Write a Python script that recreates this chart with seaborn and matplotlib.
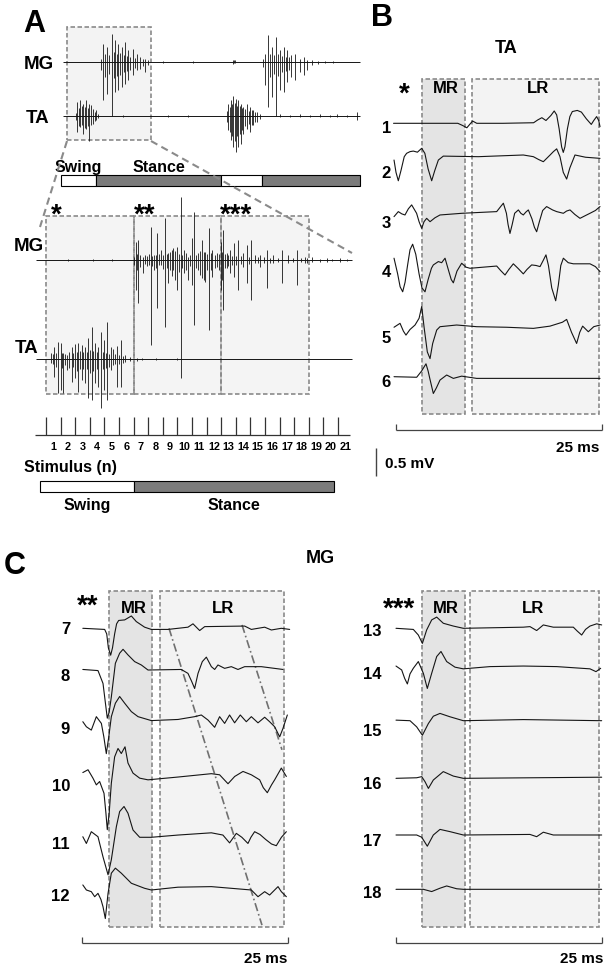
import numpy as np
import pandas as pd
import matplotlib
matplotlib.use("Agg")
import matplotlib.pyplot as plt
from matplotlib.patches import Rectangle
from matplotlib.transforms import offset_copy
import seaborn as sns

# ============================== DATA ==============================
# ---- Panel A, overview recording: spikes as (time s, up mV, down mV)
overview_mg_spikes = [
    (0.38, 0.3, 0.8), (0.40, 1.8, 3.8), (0.42, 0.8, 1.5), (0.44, 1.5, 3.2), (0.46, 0.7, 1.2),
    (0.49, 2.8, 5.4), (0.505, 1.0, 1.6), (0.52, 2.2, 3.0), (0.535, 0.8, 1.4), (0.55, 1.8, 2.8),
    (0.57, 0.9, 1.3), (0.59, 1.5, 2.5), (0.605, 0.7, 1.0), (0.62, 2.0, 2.2), (0.635, 0.6, 0.9),
    (0.65, 1.2, 1.8), (0.67, 0.5, 0.8), (0.70, 1.3, 1.3), (0.72, 0.4, 0.6), (0.74, 0.8, 0.8),
    (0.77, 0.5, 0.7), (0.80, 0.3, 0.4), (0.82, 0.3, 1.0), (0.85, 0.2, 0.3),
    (1.00, 0.08, 0.08), (1.30, 0.1, 0.1), (1.70, 0.2, 0.2), (1.71, 0.15, 0.15), (1.72, 0.2, 0.15),
    (2.00, 0.3, 0.5), (2.02, 0.8, 2.3), (2.05, 2.7, 4.5), (2.07, 0.8, 1.5), (2.09, 1.5, 3.5),
    (2.11, 0.7, 1.2), (2.13, 2.5, 5.4), (2.15, 0.8, 1.4), (2.17, 1.2, 2.8), (2.19, 0.6, 1.0),
    (2.21, 1.5, 3.0), (2.225, 0.5, 0.9), (2.24, 1.2, 2.0), (2.26, 0.5, 0.8), (2.28, 0.7, 1.5),
    (2.32, 0.8, 1.8), (2.37, 0.3, 1.0), (2.41, 0.5, 1.3), (2.44, 0.2, 0.8), (2.49, 0.2, 0.3),
    (2.55, 0.1, 0.2), (2.62, 0.1, 0.15), (2.70, 0.1, 0.1),
]
overview_ta_spikes = [
    (0.13, 0.3, 0.4), (0.14, 1.4, 1.6), (0.155, 0.8, 1.0), (0.17, 1.6, 1.1), (0.185, 1.0, 0.9),
    (0.20, 1.2, 1.8), (0.215, 0.9, 1.2), (0.23, 1.6, 1.3), (0.245, 0.8, 1.0), (0.26, 1.2, 2.5),
    (0.28, 1.1, 0.9), (0.30, 0.7, 0.8), (0.315, 0.4, 0.5), (0.33, 0.6, 0.4), (0.345, 0.2, 0.2),
    (0.60, 0.08, 0.08), (1.05, 0.1, 0.1), (1.25, 0.1, 0.1),
    (1.64, 0.5, 0.6), (1.65, 1.2, 1.4), (1.665, 0.9, 1.6), (1.68, 1.6, 2.4), (1.69, 1.2, 2.0),
    (1.70, 2.0, 3.1), (1.715, 1.3, 2.5), (1.73, 1.7, 3.6), (1.74, 1.0, 2.0), (1.75, 1.6, 3.1),
    (1.765, 1.0, 1.8), (1.78, 1.2, 2.8), (1.79, 0.8, 1.4), (1.80, 0.9, 1.8), (1.82, 0.7, 1.0),
    (1.84, 1.2, 1.3), (1.855, 0.5, 0.8), (1.87, 0.9, 1.6), (1.89, 0.6, 0.9), (1.90, 0.6, 0.9),
    (1.92, 0.4, 0.6), (1.94, 0.4, 0.6), (1.97, 0.2, 0.3),
    (2.17, 0.15, 0.15), (2.27, 0.12, 0.12), (2.37, 0.15, 0.15), (2.47, 0.12, 0.12),
    (2.57, 0.15, 0.15), (2.67, 0.12, 0.12), (2.74, 0.15, 0.15), (2.84, 0.12, 0.12), (2.94, 0.4, 0.4),
]
overview_span = (0.0, 2.97)
overview_window = (0.04, 0.88)
overview_phase_names = ["Swing", "Stance", "Swing", "Stance"]
overview_phase_start = [-0.02, 0.33, 1.58, 1.99]
overview_phase_end = [0.33, 1.58, 1.99, 2.97]

# ---- Panel A, expanded: x in stimulus units
stim_numbers = list(range(1, 22))
stim_span = (-0.68, 20.96)
stim_mg_spikes = [
    (1.5, 0.08, 0.08), (3.2, 0.1, 0.1), (4.5, 0.1, 0.1),
    (6.05, 0.3, 0.5), (6.16, 1.83, 3.0), (6.24, 0.6, 1.0), (6.32, 2.0, 4.33), (6.45, 0.5, 0.7),
    (6.62, 0.33, 1.33), (6.75, 0.5, 0.4), (6.9, 0.4, 0.6), (7.05, 0.6, 0.5), (7.17, 3.33, 8.5),
    (7.28, 0.4, 0.6), (7.4, 0.5, 1.0), (7.52, 0.5, 0.8), (7.63, 2.67, 4.83), (7.75, 0.6, 0.5),
    (7.85, 1.0, 0.5), (8.0, 0.5, 0.9), (8.15, 4.17, 6.67), (8.27, 0.6, 0.8), (8.38, 0.67, 2.33),
    (8.5, 0.8, 1.0), (8.6, 1.0, 1.6), (8.72, 1.17, 1.0), (8.83, 0.9, 2.0), (8.95, 1.33, 3.0),
    (9.08, 0.6, 1.2), (9.22, 6.33, 11.83), (9.33, 0.5, 0.8), (9.45, 1.0, 1.33), (9.6, 0.7, 1.0),
    (9.75, 0.33, 2.0), (9.88, 0.5, 0.6), (10.02, 2.17, 2.5), (10.16, 4.83, 6.5), (10.3, 0.5, 0.8),
    (10.43, 0.67, 1.0), (10.57, 0.9, 1.5), (10.71, 2.0, 1.83), (10.8, 0.8, 2.0), (10.89, 0.83, 2.17),
    (11.02, 0.6, 1.0), (11.16, 3.17, 7.0), (11.28, 0.7, 1.0), (11.39, 1.0, 1.67), (11.55, 0.5, 0.8),
    (11.69, 0.67, 0.67), (11.82, 0.6, 1.0), (11.96, 1.83, 3.0), (12.05, 0.8, 2.0), (12.15, 3.0, 5.0),
    (12.26, 0.6, 0.8), (12.37, 0.67, 0.83), (12.48, 0.5, 0.6), (12.6, 1.0, 1.33), (12.74, 0.4, 0.5),
    (12.88, 1.67, 1.67), (13.02, 0.4, 0.5), (13.17, 2.0, 3.0), (13.35, 0.4, 0.4), (13.52, 0.67, 0.67),
    (13.74, 1.5, 2.33), (13.88, 0.3, 0.4), (14.02, 2.0, 4.0), (14.32, 0.5, 0.33), (14.5, 0.3, 0.3),
    (14.66, 0.5, 0.67), (14.9, 0.3, 0.3), (15.16, 1.0, 2.83), (15.35, 0.25, 0.25), (15.57, 0.5, 0.33),
    (15.9, 0.2, 0.2), (16.19, 1.0, 2.33), (16.6, 0.5, 0.33), (16.9, 0.2, 0.2), (17.17, 1.0, 2.5),
    (17.45, 0.2, 0.2), (17.74, 0.33, 0.33), (17.9, 0.2, 0.3), (18.2, 0.27, 0.17), (18.8, 0.15, 0.15),
    (19.22, 0.17, 0.17), (19.6, 0.15, 0.12), (20.14, 0.17, 0.17), (20.6, 0.1, 0.1),
]
stim_ta_spikes = [
    (0.32, 0.57, 0.43), (0.45, 0.5, 0.5), (0.55, 1.23, 1.77), (0.7, 0.6, 0.8), (0.84, 1.73, 3.43),
    (1.0, 1.57, 3.1), (1.1, 0.6, 0.9), (1.19, 0.57, 3.43), (1.3, 0.5, 0.6), (1.42, 0.4, 1.1),
    (1.6, 0.7, 0.9), (1.76, 1.23, 2.27), (1.88, 0.6, 0.8), (1.99, 1.5, 1.93), (2.1, 0.7, 1.2),
    (2.21, 1.63, 3.27), (2.33, 0.8, 1.0), (2.44, 1.4, 2.1), (2.55, 0.7, 1.0), (2.67, 1.23, 2.43),
    (2.78, 0.7, 1.0), (2.9, 2.07, 3.93), (3.02, 0.9, 1.4), (3.13, 3.23, 4.1), (3.25, 0.8, 1.2),
    (3.36, 1.57, 2.43), (3.47, 0.7, 1.0), (3.58, 1.23, 2.77), (3.77, 2.73, 4.93), (3.87, 0.7, 1.0),
    (3.97, 1.9, 3.1), (4.08, 0.6, 0.9), (4.2, 3.73, 4.1), (4.32, 0.5, 0.8), (4.43, 1.23, 1.1),
    (4.61, 0.97, 0.6), (4.75, 0.5, 0.5), (4.89, 1.3, 2.77), (5.0, 0.4, 0.5), (5.11, 1.9, 2.77),
    (5.25, 0.3, 0.4), (5.41, 0.4, 0.27), (5.75, 0.23, 0.17), (6.2, 0.15, 0.15), (6.6, 0.12, 0.12),
    (7.5, 0.1, 0.1), (9.0, 0.08, 0.08),
]
stim_groups = ["*", "**", "***"]
stim_group_start = [0, 6, 12]
stim_group_end = [6, 12, 18]
stim_phase_names = ["Swing", "Stance"]
stim_phase_start = [-0.41, 6.03]
stim_phase_end = [6.03, 19.73]

# ---- Panel B: TA responses (ms, mV), stimuli 1-6
ta_labels = ["1", "2", "3", "4", "5", "6"]
ta1 = [(-0.3, 0.0), (3, 0.0), (7.5, 0.0), (8.1, -0.04), (8.6, -0.08), (9.0, -0.01), (9.3, 0.04), (9.8, 0.0),
       (13, 0.0), (16.7, 0.01), (17.2, 0.06), (17.7, 0.10), (18.2, 0.05), (18.8, 0.14), (19.2, 0.22),
       (19.5, 0.15), (19.8, -0.1), (20.1, -0.42), (20.3, -0.52), (20.5, -0.42), (20.8, -0.1), (21.1, 0.12),
       (21.4, 0.21), (22.0, 0.23), (22.5, 0.2), (23.1, 0.08), (23.7, -0.02), (24.0, 0.05), (24.35, 0.12),
       (24.6, 0.05), (24.76, -0.06)]
ta2 = [(-0.24, -0.06), (0.0, -0.28), (0.28, -0.43), (0.6, -0.25), (1.0, 0.0), (1.29, 0.06), (1.7, 0.09),
       (2.1, 0.10), (2.6, 0.08), (3.12, 0.15), (3.5, 0.06), (3.9, -0.22), (4.33, -0.43), (4.7, -0.25),
       (5.14, -0.06), (5.74, 0.01), (10, 0.0), (15.45, 0.03), (16.67, 0.0), (17.3, -0.05), (17.88, -0.09),
       (18.7, 0.03), (19.1, 0.09), (19.5, 0.14), (19.9, 0.0), (20.3, -0.28), (20.71, -0.40), (21.1, -0.2),
       (21.72, 0.03), (23, -0.01), (24.76, -0.03)]
ta3 = [(-0.24, -0.06), (0.28, 0.03), (0.7, -0.01), (1.09, -0.03), (1.5, 0.08), (1.9, 0.15), (2.5, 0.0),
       (2.8, -0.15), (3.12, -0.27), (3.4, -0.15), (3.72, -0.09), (4.13, -0.15), (4.73, -0.08), (5.34, -0.03),
       (8, 0.0), (12.22, 0.03), (12.7, 0.12), (13.03, 0.18), (13.4, 0.0), (13.6, -0.2), (13.83, -0.36),
       (14.1, -0.2), (14.4, 0.0), (14.85, 0.06), (15.15, 0.0), (15.45, -0.03), (15.75, 0.02), (16.06, 0.06),
       (16.5, -0.1), (16.8, -0.25), (17.07, -0.33), (17.4, -0.15), (17.8, 0.05), (18.28, 0.12), (19.0, 0.06),
       (19.5, 0.03), (20.31, 0.0), (20.7, 0.04), (21.12, 0.06), (21.7, -0.02), (22.33, -0.09), (23.0, -0.04),
       (23.54, 0.0), (24.2, 0.05), (24.76, 0.12)]
ta4 = [(-0.24, 0.18), (0.2, -0.1), (0.5, -0.33), (0.81, -0.42), (1.1, -0.25), (1.4, 0.05), (1.7, 0.33),
       (2.02, 0.43), (2.4, 0.25), (2.8, -0.1), (3.15, -0.35), (3.52, -0.42), (3.9, -0.2), (4.3, 0.0),
       (4.53, 0.06), (5.14, 0.12), (5.54, 0.10), (5.95, 0.18), (6.4, -0.05), (6.7, -0.2), (6.96, -0.26),
       (7.4, -0.05), (7.97, 0.09), (8.5, 0.02), (8.98, 0.0), (12.22, 0.04), (12.7, -0.04), (13.23, -0.12),
       (13.7, -0.02), (14.24, 0.08), (14.8, 0.0), (15.45, -0.10), (15.9, -0.02), (16.46, 0.06), (17.0, 0.05),
       (17.48, 0.03), (17.9, 0.15), (18.2, 0.24), (18.5, 0.05), (18.9, -0.35), (19.38, -0.58), (19.7, -0.3),
       (20.0, 0.05), (20.31, 0.18), (20.9, 0.1), (21.52, 0.08), (23.54, 0.08), (24.2, 0.03), (24.76, -0.06)]
ta5 = [(-0.24, -0.01), (0.49, 0.06), (0.9, -0.08), (1.21, -0.15), (1.7, -0.05), (2.31, 0.03), (2.8, 0.15),
       (3.12, 0.36), (3.4, 0.0), (3.8, -0.45), (4.13, -0.57), (4.45, -0.3), (4.94, -0.06), (5.34, 0.0),
       (7.36, 0.03), (9.79, 0.0), (13.43, -0.01), (16.67, -0.03), (18.69, 0.01), (20.2, 0.08), (20.71, 0.13),
       (21.3, -0.1), (21.92, -0.30), (22.3, -0.1), (22.65, 0.01), (23.34, -0.09), (24.0, 0.0), (24.76, 0.03)]
ta6 = [(-0.24, 0.0), (2.51, -0.01), (3.1, 0.1), (3.64, 0.23), (3.9, 0.1), (4.13, -0.05), (4.53, -0.30),
       (4.9, -0.2), (5.34, -0.06), (6.15, 0.03), (6.96, -0.03), (7.97, 0.01), (9.79, -0.03), (24.76, -0.03)]

# ---- Panel C: MG responses (ms, mV), stimuli 7-12 and 13-18
mg_labels_a = ["7", "8", "9", "10", "11", "12"]
mg7 = [(0.1, 0.0), (2.75, -0.02), (3.0, -0.1), (3.2, -0.35), (3.48, -0.48), (3.7, -0.35), (3.96, -0.1),
       (4.2, 0.08), (4.45, 0.14), (5.18, 0.15), (5.99, 0.22), (6.59, 0.12), (7.6, 0.02), (8.41, -0.02),
       (10.44, -0.02), (12.86, 0.02), (13.47, 0.08), (14.28, -0.04), (14.89, 0.03), (19.74, 0.04),
       (20.55, -0.02), (22.17, 0.02), (22.98, -0.03), (24.19, 0.0), (25.2, -0.02)]
mg8 = [(0.1, 0.01), (1.94, -0.01), (2.55, -0.24), (2.85, -0.6), (3.07, -0.86), (3.3, -0.75), (3.56, -0.48),
       (4.05, 0.12), (4.57, 0.30), (4.98, 0.37), (5.58, 0.27), (6.39, 0.15), (7.2, 0.09), (8.01, 0.0),
       (12.05, 0.01), (12.86, -0.06), (13.3, -0.2), (13.67, -0.33), (14.08, -0.06), (14.6, 0.15),
       (15.09, 0.23), (15.7, 0.06), (16.1, 0.01), (16.5, 0.09), (17.31, 0.03), (18.12, 0.06), (18.93, 0.01),
       (19.74, 0.06), (21.76, 0.06), (24.39, 0.01)]
mg9 = [(0.1, -0.03), (0.53, -0.12), (1.13, -0.18), (1.74, 0.06), (2.35, -0.06), (2.65, -0.3), (2.95, -0.60),
       (3.25, -0.3), (3.56, 0.06), (4.05, 0.30), (4.57, 0.42), (5.18, 0.30), (5.99, 0.15), (6.8, 0.06),
       (8.41, -0.01), (11.65, 0.01), (13.67, 0.06), (14.48, 0.09), (15.29, 0.0), (16.1, -0.13), (16.7, 0.06),
       (17.31, -0.06), (17.91, 0.09), (18.52, -0.05), (19.21, 0.09), (19.94, -0.03), (20.55, 0.06),
       (21.36, -0.05), (22.17, 0.05), (22.77, -0.03), (23.38, -0.12), (23.99, -0.30), (24.39, -0.15),
       (24.92, 0.09)]
mg10 = [(0.1, 0.12), (0.73, 0.17), (1.33, 0.02), (1.74, -0.10), (2.14, -0.04), (2.67, -0.25), (2.9, -0.6),
        (3.07, -0.90), (3.3, -0.6), (3.56, -0.07), (3.96, 0.40), (4.37, 0.55), (4.77, 0.46), (5.22, 0.58),
        (5.58, 0.29), (6.19, 0.11), (7.0, 0.02), (8.01, -0.01), (11.65, 0.04), (15.7, 0.10), (16.7, 0.08),
        (17.72, -0.08), (18.53, 0.05), (19.54, 0.14), (20.55, 0.08), (21.56, -0.01), (22.0, -0.15),
        (22.49, -0.24), (23.0, -0.1), (23.38, -0.01), (24.19, 0.20), (24.8, 0.05)]
mg11 = [(0.1, 0.01), (0.53, -0.11), (1.13, 0.10), (1.94, 0.01), (2.55, -0.35), (3.16, -0.67), (3.56, -0.40),
        (4.17, 0.19), (4.57, 0.46), (5.1, 0.55), (5.58, 0.43), (6.19, 0.13), (7.0, 0.0), (8.41, 0.0),
        (11.65, 0.04), (15.7, 0.08), (17.1, 0.04), (17.91, -0.10), (18.73, 0.07), (19.4, 0.0), (20.14, -0.11),
        (20.5, 0.0), (20.95, 0.10), (21.6, 0.05), (22.3, -0.04), (23.0, -0.12), (23.58, -0.15), (24.2, 0.0),
        (24.8, 0.10)]
mg12 = [(0.1, 0.06), (0.53, -0.03), (1.13, -0.06), (1.54, -0.15), (1.94, -0.09), (2.3, -0.2), (2.55, -0.33),
        (2.83, -0.54), (3.16, -0.09), (3.56, 0.27), (4.05, 0.36), (4.77, 0.27), (5.99, 0.09), (7.6, 0.0),
        (8.41, -0.03), (11.65, 0.02), (15.7, 0.03), (20.55, -0.03), (21.36, -0.15), (22.17, -0.06),
        (22.77, -0.12), (23.38, -0.03), (23.79, 0.03), (24.19, -0.06), (24.8, -0.15)]
mg_labels_b = ["13", "14", "15", "16", "17", "18"]
mg13 = [(0.0, 0.0), (2.1, -0.02), (2.71, -0.12), (3.2, -0.27), (3.72, -0.03), (4.33, 0.15), (4.94, 0.20),
        (5.74, 0.09), (6.96, 0.04), (8.17, 0.0), (15.45, 0.02), (16.26, 0.03), (17.07, -0.04), (17.88, 0.06),
        (19.09, 0.02), (21.52, 0.02), (22.0, -0.05), (22.53, -0.12), (23.0, -0.02), (23.54, 0.04),
        (24.35, 0.08), (24.96, 0.06)]
mg14 = [(0.0, 0.04), (0.69, -0.03), (1.05, -0.18), (1.38, -0.28), (1.7, -0.1), (2.1, 0.0), (2.71, 0.12),
        (3.32, -0.09), (3.8, -0.36), (4.33, -0.09), (4.94, 0.21), (5.46, 0.30), (6.15, 0.12), (7.16, 0.02),
        (8.17, -0.01), (11.41, 0.03), (15.45, 0.04), (19.5, 0.03), (23.54, -0.01), (24.27, -0.06), (24.84, 0.0)]
mg15 = [(0.0, 0.01), (1.7, 0.0), (2.51, -0.11), (3.2, -0.26), (3.93, -0.05), (4.53, 0.08), (5.34, 0.13),
        (6.55, 0.07), (8.17, 0.0), (15.45, 0.02), (24.96, 0.0)]
mg16 = [(0.0, 0.0), (2.51, 0.01), (3.12, 0.03), (3.52, -0.06), (3.93, -0.18), (4.53, -0.03), (5.74, 0.12),
        (6.96, 0.04), (8.17, 0.0), (24.96, 0.02)]
mg17 = [(0.0, 0.0), (2.51, 0.0), (3.12, -0.04), (3.8, -0.20), (4.53, 0.0), (5.34, 0.10), (6.55, 0.06),
        (8.17, 0.0), (16.26, 0.01), (17.07, -0.03), (17.88, 0.05), (19.09, 0.0), (24.96, 0.0)]
mg18 = [(0.0, 0.0), (3.32, 0.0), (4.33, -0.04), (5.34, 0.02), (6.15, 0.06), (7.36, 0.01), (8.17, 0.0),
        (24.96, 0.0)]

# response windows (ms)
mr_window_b = (3.16, 8.37)
lr_window_b = (9.22, 24.63)
mr_window_c1 = (3.28, 8.50)
lr_window_c1 = (9.47, 24.51)
mr_window_c2 = (3.16, 8.37)
lr_window_c2 = (8.98, 24.64)
# latency shift guides in C (ms, mV relative to the first row)
shift_line_1 = [(10.56, 0.0), (21.84, -5.30)]
shift_line_2 = [(19.42, 0.06), (24.27, -2.17)]
scale_ms = 25
scale_mv = 0.5

# ============================== FIGURE ==============================
sns.set_theme(style="white")
plt.rcParams['font.family'] = ['Liberation Sans', 'DejaVu Sans']
plt.rcParams['font.weight'] = 'bold'

W, H = 615, 975
fig = plt.figure(figsize=(W / 100, H / 100), dpi=100, facecolor='white')

axes_all = []


def make_ax(ox, oy, sx, sy, z=1):
    ax = fig.add_axes([0, 0, 1, 1], zorder=z)
    ax.axis('off')
    ax.patch.set_visible(False)
    lims = ((0 - ox) / sx, (W - ox) / sx, (oy - H) / sy, oy / sy)
    axes_all.append((ax, lims))
    return ax


def txt(ax, x, y, s, size, ha='center', mid=0.358, color='black'):
    tr = offset_copy(ax.transData, fig=fig, x=0, y=-mid * size, units='points')
    ax.text(x, y, s, transform=tr, fontsize=size, fontweight='bold', ha=ha,
            va='baseline', color=color)


BOX_EDGE = '#8a8a8a'
BOX_LS = (0, (2.7, 1.5))
TRACE_C = '#151515'


def dbox(ax, x0, x1, y0, y1, fill):
    ax.add_patch(Rectangle((x0, y0), x1 - x0, y1 - y0, facecolor=fill, edgecolor='none', zorder=0))
    ax.add_patch(Rectangle((x0, y0), x1 - x0, y1 - y0, facecolor='none', edgecolor=BOX_EDGE,
                           lw=1.2, ls=BOX_LS, zorder=1))


def spikes(ax, spk, off, lw=0.6):
    a = np.array(spk)
    ax.vlines(a[:, 0], off - a[:, 2], off + a[:, 1], color=TRACE_C, lw=lw, zorder=3)


def phase_bar(ax, starts, ends, names, yc, h):
    colors = ['white' if n == 'Swing' else '#7b7b7b' for n in names]
    ax.barh([yc] * len(starts), np.array(ends) - np.array(starts), left=starts, height=h,
            color=colors, edgecolor='black', lw=0.8, zorder=2)


def trace_panel(ax, traces, offsets, labels):
    rows = []
    for lab, tr, off in zip(labels, traces, offsets):
        for ms, mv in tr:
            rows.append({'trace': lab, 'ms': ms, 'y': mv + off})
    df = pd.DataFrame(rows)
    sns.lineplot(data=df, x='ms', y='y', units='trace', estimator=None, sort=False,
                 color=TRACE_C, lw=0.8, ax=ax, legend=False, zorder=3,
                 solid_joinstyle='round')
    ax.set_xlabel('')
    ax.set_ylabel('')


def scale_bar(ax, y, tick):
    ax.hlines(y, 0, scale_ms, color='#444444', lw=0.9)
    ax.vlines([0, scale_ms], y, y + tick, color='#444444', lw=0.9)


# ---------------- layout axes (pixel coordinates)
Lx = make_ax(0, 0, 1, -1, z=5)

# ---------------- Panel A, overview
A1 = make_ax(63, 61.7, 100, 10)
ta_off_1 = -5.4
A1.hlines([0, ta_off_1], overview_span[0], overview_span[1], color=TRACE_C, lw=0.7)
dbox(A1, overview_window[0], overview_window[1], -7.83, 3.47, '#f3f3f3')
spikes(A1, overview_mg_spikes, 0)
spikes(A1, overview_ta_spikes, ta_off_1)
phase_bar(A1, overview_phase_start, overview_phase_end, overview_phase_names, -11.88, 1.1)
for nm, s0, s1 in list(zip(overview_phase_names, overview_phase_start, overview_phase_end))[:2]:
    txt(A1, (s0 + s1) / 2, -10.43, nm, 11.5)

# ---------------- Panel A, expanded
A2 = make_ax(46, 260, 14.6, 10)
ta_off_2 = -9.9
A2.hlines([0, ta_off_2], stim_span[0], stim_span[1], color=TRACE_C, lw=0.7)
for g, a, b in zip(stim_groups, stim_group_start, stim_group_end):
    dbox(A2, a, b, -13.35, 4.4, '#f4f4f4')
spikes(A2, stim_mg_spikes, 0)
spikes(A2, stim_ta_spikes, ta_off_2)
A2.hlines(-17.5, -0.75, 20.8, color='#333333', lw=0.9)
A2.vlines(np.array(stim_numbers) - 1, -17.5, -15.7, color='#333333', lw=0.9)
for n in stim_numbers:
    txt(A2, n - 0.5, -18.65, str(n), 7.8)
phase_bar(A2, stim_phase_start, stim_phase_end, stim_phase_names, -22.65, 1.1)
for nm, s0, s1 in zip(stim_phase_names, stim_phase_start, stim_phase_end):
    txt(A2, (s0 + s1) / 2, -24.4, nm, 11.5)

# zoom guide lines
Lx.plot([67, 40], [141, 227], color='#8a8a8a', lw=1.5, ls=(0, (3.5, 2.2)))
Lx.plot([151, 352], [141, 253], color='#8a8a8a', lw=1.5, ls=(0, (3.5, 2.2)))

# ---------------- Panel B
B = make_ax(396, 123.3, 8.24, 56)
b_offsets = [0, -0.596, -1.607, -2.589, -3.632, -4.525]
dbox(B, mr_window_b[0], mr_window_b[1], -5.19, 0.79, '#e4e4e4')
dbox(B, lr_window_b[0], lr_window_b[1], -5.19, 0.79, '#f3f3f3')
trace_panel(B, [ta1, ta2, ta3, ta4, ta5, ta6], b_offsets, ta_labels)
scale_bar(B, -5.48, 0.11)
B.vlines(-2.43, -5.80 - scale_mv, -5.80, color='#444444', lw=1.0)

# ---------------- Panel C
C1 = make_ax(82, 628.3, 8.24, 56)
c1_offsets = [0, -0.745, -1.638, -2.696, -3.732, -4.643]
dbox(C1, mr_window_c1[0], mr_window_c1[1], -5.33, 0.666, '#e4e4e4')
dbox(C1, lr_window_c1[0], lr_window_c1[1], -5.33, 0.666, '#f3f3f3')
for ln in (shift_line_1, shift_line_2):
    C1.plot([ln[0][0], ln[1][0]], [ln[0][1], ln[1][1]], color='#707070', lw=1.2,
            ls=(0, (5, 1.8, 1, 1.8)), zorder=2)
trace_panel(C1, [mg7, mg8, mg9, mg10, mg11, mg12], c1_offsets, mg_labels_a)
scale_bar(C1, -5.62, 0.11)

C2 = make_ax(396, 628.3, 8.24, 56)
c2_offsets = [0, -0.714, -1.65, -2.679, -3.691, -4.661]
dbox(C2, mr_window_c2[0], mr_window_c2[1], -5.33, 0.666, '#e4e4e4')
dbox(C2, lr_window_c2[0], lr_window_c2[1], -5.33, 0.666, '#f3f3f3')
trace_panel(C2, [mg13, mg14, mg15, mg16, mg17, mg18], c2_offsets, mg_labels_b)
scale_bar(C2, -5.62, 0.11)

# ---------------- texts (pixel layout)
txt(Lx, 34, 21, 'A', 22)
txt(Lx, 382, 15, 'B', 22)
txt(Lx, 15, 563, 'C', 22)
txt(Lx, 39, 62, 'MG', 13.5)
txt(Lx, 37.5, 116, 'TA', 13.5)
txt(Lx, 28.5, 244.5, 'MG', 13.5)
txt(Lx, 27, 346.5, 'TA', 13.5)
STAR_MID = 0.58
txt(Lx, 56, 207, '*', 20, mid=STAR_MID)
txt(Lx, 145, 207, '**', 20, mid=STAR_MID)
txt(Lx, 236, 207, '***', 20, mid=STAR_MID)
txt(Lx, 24, 466, 'Stimulus (n)', 11.5, ha='left')

txt(Lx, 506.5, 47, 'TA', 13)
txt(Lx, 404, 85.5, '*', 20, mid=STAR_MID)
txt(Lx, 446, 87, 'MR', 12)
txt(Lx, 538.5, 87, 'LR', 12)
for lab, py in zip(ta_labels, [127, 172, 222, 271, 337, 381]):
    txt(Lx, 391, py, lab, 12, ha='right')
txt(Lx, 385, 463, '0.5 mV', 11, ha='left')
txt(Lx, 599, 447, '25 ms', 11, ha='right')

txt(Lx, 320, 557, 'MG', 13)
txt(Lx, 88, 598, '**', 20, mid=STAR_MID)
txt(Lx, 399, 601, '***', 20, mid=STAR_MID)
txt(Lx, 134, 607, 'MR', 12)
txt(Lx, 223, 607, 'LR', 12)
txt(Lx, 446, 607, 'MR', 12)
txt(Lx, 533, 607, 'LR', 12)
for lab, py in zip(mg_labels_a, [628.5, 675, 728, 785, 843, 895]):
    txt(Lx, 70, py, lab, 12, ha='right')
for lab, py in zip(mg_labels_b, [630.5, 673, 730, 783, 840, 892]):
    txt(Lx, 382, py, lab, 12, ha='right')
txt(Lx, 287, 958, '25 ms', 11, ha='right')
txt(Lx, 603, 958, '25 ms', 11, ha='right')

for ax, (x0, x1, y0, y1) in axes_all:
    ax.set_xlim(x0, x1)
    ax.set_ylim(y0, y1)

fig.savefig('out.png', dpi=100, facecolor='white')
